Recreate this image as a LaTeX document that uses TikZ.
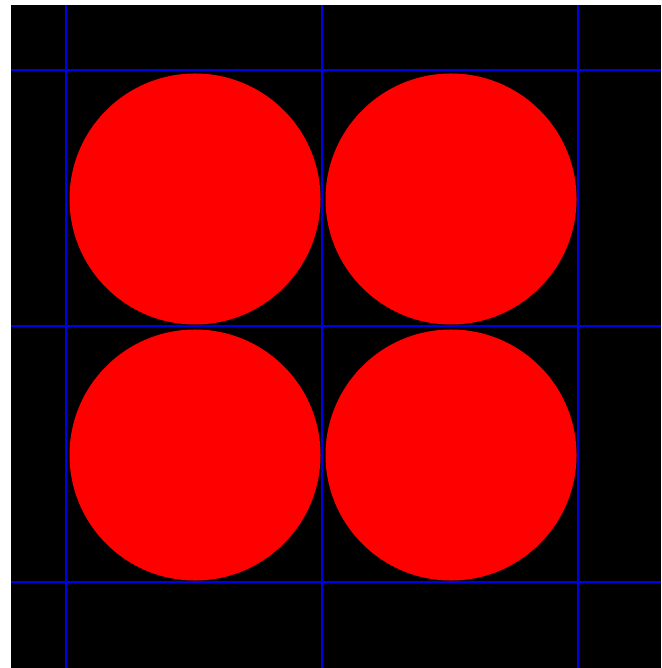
\documentclass[tikz,border=0pt]{standalone}
\usepackage{tikz}
\newcommand{\CellSize}{256}
\newcommand{\GridLx}{66}
\newcommand{\GridTy}{70}
\newcommand{\BallR}{125.5}
\definecolor{gridblue}{RGB}{0,0,230}
\tikzset{
  gridline/.style={draw=gridblue,line width=0.6pt},
  ball/.style={fill=red}
}
\begin{document}
\begin{tikzpicture}[x=0.01cm,y=-0.01cm]
  \useasboundingbox (0,0) rectangle (661,668);
  \fill[black] (11,5) rectangle (661,668);

  \foreach \i in {0,1} {
    \foreach \j in {0,1} {
      \pgfmathsetmacro{\BxTmp}{\GridLx+\CellSize/2+\i*\CellSize+1}
      \pgfmathsetmacro{\ByTmp}{\GridTy+\CellSize/2+\j*\CellSize+1}
      \fill[ball] (\BxTmp,\ByTmp) circle[radius=\BallR];
    }
  }

  \foreach \k in {0,1,2} {
    \pgfmathsetmacro{\GxTmp}{\GridLx+\k*\CellSize}
    \pgfmathsetmacro{\GyTmp}{\GridTy+\k*\CellSize}
    \draw[gridline] (\GxTmp,5) -- (\GxTmp,668);
    \draw[gridline] (11,\GyTmp) -- (661,\GyTmp);
  }
\end{tikzpicture}
\end{document}
